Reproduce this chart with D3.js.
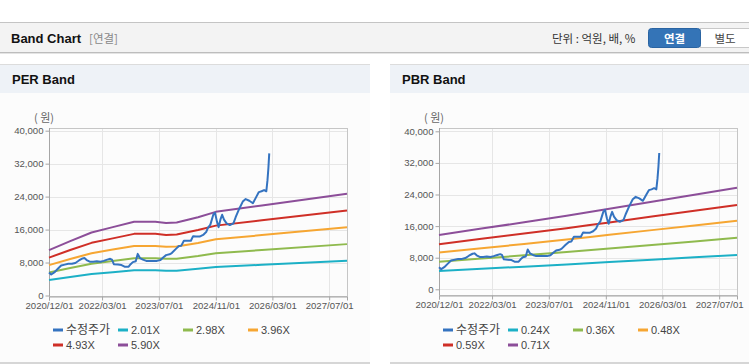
<!DOCTYPE html>
<html>
<head>
<meta charset="utf-8">
<script src="https://cdn.jsdelivr.net/npm/d3@7"></script>
<style>
  body { margin: 0; background: #fff; }
  svg { display: block; font-family: "Liberation Sans", Arial, "Noto Sans CJK KR", sans-serif; }
</style>
</head>
<body>
<svg id="chart" width="749" height="364"></svg>
<script>
// adjusted share price (same series on both charts)
const priceDates = ['2020-12-01','2020-12-20','2021-01-15','2021-02-15','2021-03-15','2021-04-15','2021-05-15','2021-06-15',
  '2021-07-15','2021-08-15','2021-09-15','2021-10-01','2021-10-20','2021-11-15','2021-12-15','2022-01-15','2022-02-15',
  '2022-03-15','2022-04-15','2022-05-10','2022-05-25','2022-06-10','2022-07-15','2022-08-15','2022-09-10','2022-10-15',
  '2022-11-01','2022-11-20','2022-12-15','2023-01-01','2023-01-20','2023-02-15','2023-03-15','2023-04-15','2023-05-15',
  '2023-06-15','2023-07-15','2023-08-10','2023-09-01','2023-10-01','2023-10-20','2023-11-20','2023-12-20','2024-01-10',
  '2024-02-01','2024-03-01','2024-04-01','2024-04-20','2024-05-15','2024-06-15','2024-07-15','2024-08-10','2024-08-25',
  '2024-09-15','2024-10-10','2024-10-25','2024-11-10','2024-11-25','2024-12-10','2024-12-25','2025-01-10','2025-02-01',
  '2025-03-01','2025-04-01','2025-04-20','2025-05-20','2025-06-20','2025-07-15','2025-08-15','2025-09-15','2025-10-15',
  '2025-11-05','2025-11-28','2025-12-20','2026-01-08','2026-01-18','2026-01-26','2026-02-02'];
const priceValues = [5600,5100,5600,6500,7300,7500,7700,7700,
  7900,8500,9000,9100,8600,8200,8200,8300,8200,
  8400,8700,8900,8700,7600,7500,7400,7000,7000,
  7600,8100,8300,10100,9100,8700,8400,8400,8400,
  8400,8600,9300,9800,10000,10300,11200,12000,12100,
  13300,13300,13300,14400,14300,14300,14700,15400,16400,
  17200,19600,20100,18000,16600,18400,19600,18400,17500,
  17100,17500,19000,21000,22800,23400,23000,22400,24000,
  25100,25300,25600,25300,28000,31000,34500];

// PER band lines
const perBandDates = ['2020-12-01','2021-06-01','2021-12-01','2022-06-01','2022-12-01','2023-06-01',
  '2023-09-01','2023-12-01','2024-06-01','2024-11-01','2025-12-01','2027-12-01'];
const per201 = [3750,4500,5210,5660,6100,6100,6000,6030,6470,6920,7440,8410];
const per298 = [5560,6670,7730,8390,9040,9040,8890,8940,9600,10250,11040,12470];
const per396 = [7380,8860,10270,11140,12020,12020,11810,11880,12750,13630,14660,16580];
const per493 = [9190,11030,12780,13870,14960,14960,14710,14790,15880,16960,18260,20640];
const per590 = [11000,13200,15300,16600,17900,17900,17600,17700,19000,20300,21850,24700];
const perLabels = ['수정주가', '2.01X', '2.98X', '3.96X', '4.93X', '5.90X'];

// PBR band lines
const pbrBandDates = ['2020-12-01','2021-12-01','2022-12-01','2023-12-01','2024-06-01','2024-12-01',
  '2025-12-01','2026-12-01','2027-12-01'];
const pbr024 = [4650,5200,5740,6290,6600,6890,7490,8090,8690];
const pbr036 = [6970,7790,8600,9430,9900,10330,11230,12130,13030];
const pbr048 = [9300,10390,11470,12580,13200,13780,14980,16180,17380];
const pbr059 = [11430,12770,14100,15460,16230,16930,18410,19880,21360];
const pbr071 = [13750,15370,16970,18600,19530,20380,22150,23930,25700];
const pbrLabels = ['수정주가', '0.24X', '0.36X', '0.48X', '0.59X', '0.71X'];

const yTicks = [0, 8000, 16000, 24000, 32000, 40000];
const xTicks = ['2020-12-01', '2022-03-01', '2023-07-01', '2024-11-01', '2026-03-01', '2027-07-01'];
const xDomain = ['2020-12-01', '2027-12-01'];

const colors = ['#3473c0', '#1cb0c6', '#8fba4e', '#f6a632', '#cf2f27', '#8c4e99'];
const parse = d3.timeParse('%Y-%m-%d');

const svg = d3.select('#chart');

// top header bar
svg.append('rect').attr('x', 0).attr('y', 22).attr('width', 749).attr('height', 31).attr('fill', '#f3f3f3');
svg.append('line').attr('x1', 0).attr('x2', 749).attr('y1', 22.5).attr('y2', 22.5).attr('stroke', '#c4c4c4');
svg.append('line').attr('x1', 0).attr('x2', 749).attr('y1', 52.5).attr('y2', 52.5).attr('stroke', '#bdbdbd');
svg.append('line').attr('x1', 0).attr('x2', 749).attr('y1', 53.5).attr('y2', 53.5).attr('stroke', '#e4e4e4');
svg.append('text').attr('x', 11).attr('y', 43).attr('font-size', 13).attr('font-weight', 'bold')
  .attr('fill', '#111').text('Band Chart');
svg.append('text').attr('x', 89).attr('y', 43).attr('font-size', 11.5).attr('fill', '#888')
  .attr('font-family', '"Noto Sans CJK KR", sans-serif').text('[연결]');
svg.append('text').attr('x', 552).attr('y', 43).attr('font-size', 11.5).attr('fill', '#333')
  .attr('font-family', '"Noto Sans CJK KR", sans-serif').text('단위 : 억원, 배, %');
svg.append('rect').attr('x', 700.5).attr('y', 28.5).attr('width', 50).attr('height', 19)
  .attr('fill', '#fff').attr('stroke', '#c8c8c8');
svg.append('rect').attr('x', 648.5).attr('y', 28.5).attr('width', 52).attr('height', 19).attr('rx', 3)
  .attr('fill', '#3474b7').attr('stroke', '#2a64a2');
svg.append('text').attr('x', 674.5).attr('y', 42.5).attr('text-anchor', 'middle').attr('font-size', 11.5)
  .attr('font-weight', 'bold').attr('fill', '#fff').attr('font-family', '"Noto Sans CJK KR", sans-serif').text('연결');
svg.append('text').attr('x', 725).attr('y', 42.5).attr('text-anchor', 'middle').attr('font-size', 11.5)
  .attr('fill', '#444').attr('font-family', '"Noto Sans CJK KR", sans-serif').text('별도');

function drawPanel(opts) {
  const g = svg.append('g');

  // panel box + title strip
  g.append('rect').attr('x', opts.px).attr('y', 64).attr('width', opts.pw).attr('height', 299).attr('fill', '#fcfcfc');
  g.append('rect').attr('x', opts.px).attr('y', 65).attr('width', opts.pw).attr('height', 28).attr('fill', '#eef2f7');
  g.append('line').attr('x1', opts.px).attr('x2', opts.px + opts.pw).attr('y1', 64.5).attr('y2', 64.5).attr('stroke', '#dcdcdc');
  g.append('line').attr('x1', opts.px).attr('x2', opts.px + opts.pw).attr('y1', 363).attr('y2', 363).attr('stroke', '#d6d6d6').attr('stroke-width', 2);
  g.append('text').attr('x', opts.px + 12).attr('y', 84).attr('font-size', 13).attr('font-weight', 'bold')
    .attr('fill', '#111').text(opts.title);

  const x = d3.scaleTime().domain(xDomain.map(parse)).range([opts.left, opts.right]);
  const y = d3.scaleLinear().domain([0, 40000]).range([opts.y0, opts.y40]);

  // grid
  g.append('g').selectAll('line').data(yTicks).join('line')
    .attr('x1', opts.left).attr('x2', opts.right)
    .attr('y1', d => Math.round(y(d)) + 0.5).attr('y2', d => Math.round(y(d)) + 0.5)
    .attr('stroke', '#e6e6e6');
  g.append('g').selectAll('line').data(xTicks).join('line')
    .attr('x1', d => Math.round(x(parse(d))) + 0.5).attr('x2', d => Math.round(x(parse(d))) + 0.5)
    .attr('y1', opts.top).attr('y2', opts.bottom)
    .attr('stroke', '#e6e6e6');
  g.append('rect').attr('x', opts.left + 0.5).attr('y', opts.top + 0.5)
    .attr('width', opts.right - opts.left).attr('height', opts.bottom - opts.top)
    .attr('fill', 'none').attr('stroke', '#c6c6c6');

  // axes
  const yAxis = g.append('g').attr('transform', `translate(${opts.left + 0.5},0)`)
    .call(d3.axisLeft(y).tickValues(yTicks).tickSize(4).tickPadding(2).tickFormat(d3.format(',')));
  yAxis.select('.domain').attr('d', `M0,${opts.top}V${opts.bottom}`);
  const xAxis = g.append('g').attr('transform', `translate(0,${opts.bottom + 0.5})`)
    .call(d3.axisBottom(x).tickValues(xTicks.map(parse)).tickSize(4).tickPadding(2).tickFormat(d3.timeFormat('%Y/%m/%d')));
  [yAxis, xAxis].forEach(a => {
    a.select('.domain').attr('stroke', '#a6a6a6');
    a.selectAll('.tick line').attr('stroke', '#a6a6a6');
    a.selectAll('.tick text').attr('fill', '#555').attr('font-size', 9.6)
      .attr('font-family', '"Liberation Sans", Arial, sans-serif');
  });

  g.append('text').attr('x', opts.left - 5).attr('y', 122).attr('text-anchor', 'middle')
    .attr('font-size', 11).attr('fill', '#666').attr('font-family', '"Noto Sans CJK KR", sans-serif').text('( 원)');

  // lines
  const line = d3.line().x(d => x(d[0])).y(d => y(d[1]));
  const series = [d3.zip(priceDates.map(parse), priceValues)]
    .concat(opts.bands.map(b => d3.zip(opts.bandDates.map(parse), b)));
  const order = [1, 2, 3, 4, 5, 0];
  order.forEach(i => {
    g.append('path').datum(series[i]).attr('d', line)
      .attr('fill', 'none').attr('stroke', colors[i]).attr('stroke-width', 2)
      .attr('stroke-linejoin', 'round');
  });

  // legend
  const cols = [4, 69, 134, 199];
  opts.labels.forEach((lab, i) => {
    const lx = opts.left + cols[i % 4];
    const ly = i < 4 ? 330 : 345;
    g.append('line').attr('x1', lx).attr('x2', lx + 10).attr('y1', ly).attr('y2', ly)
      .attr('stroke', colors[i]).attr('stroke-width', 3);
    g.append('text').attr('x', lx + 13).attr('y', ly + 4).attr('font-size', i === 0 ? 12 : 11).attr('fill', '#444')
      .attr('font-family', i === 0 ? '"Noto Sans CJK KR", sans-serif' : '"Liberation Sans", Arial, sans-serif')
      .text(lab);
  });
}

drawPanel({
  title: 'PER Band', px: 0, pw: 370,
  left: 49, right: 347, top: 128, bottom: 296, y0: 295.5, y40: 130.7,
  bandDates: perBandDates, bands: [per201, per298, per396, per493, per590], labels: perLabels
});
drawPanel({
  title: 'PBR Band', px: 390, pw: 359,
  left: 439, right: 737, top: 128, bottom: 295, y0: 289.3, y40: 131.3,
  bandDates: pbrBandDates, bands: [pbr024, pbr036, pbr048, pbr059, pbr071], labels: pbrLabels
});
</script>
</body>
</html>
